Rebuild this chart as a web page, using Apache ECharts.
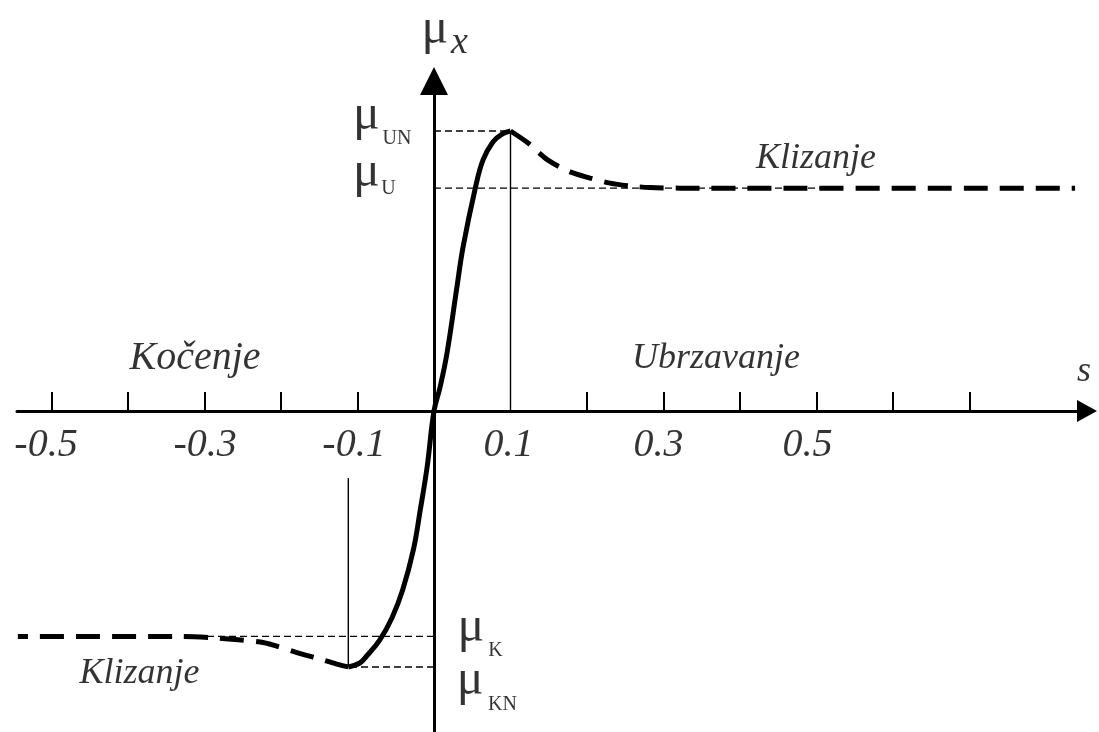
<!DOCTYPE html>
<html><head><meta charset="utf-8">
<script src="https://cdn.jsdelivr.net/npm/echarts@6/dist/echarts.min.js"></script>
<style>html,body{margin:0;padding:0;background:#fff}#c{width:1099px;height:732px}</style>
</head><body><div id="c"></div>
<script>
// ---- data ----
const xTickValues = [-0.5, -0.4, -0.3, -0.2, -0.1, 0.2, 0.3, 0.4, 0.5, 0.6, 0.7];
const xLabelValues = [-0.5, -0.3, -0.1, 0.1, 0.3, 0.5];
const muUN = 1.0, muU = 0.796, muK = -0.805, muKN = -0.914;
const sUN = 0.1, sKN = -0.112;
// solid curve (stable region)
const solidS = [-0.112, -0.097, -0.088, -0.071, -0.055, -0.041, -0.027, -0.018, -0.009, 0, 0.008, 0.017, 0.030, 0.038, 0.054, 0.064, 0.077, 0.089, 0.100];
const solidV = [-0.914, -0.900, -0.875, -0.818, -0.739, -0.639, -0.496, -0.354, -0.200, 0, 0.086, 0.207, 0.443, 0.586, 0.796, 0.896, 0.961, 0.989, 1.000];
// dashed curve, acceleration side
const dashUS = [0.100, 0.123, 0.149, 0.178, 0.204, 0.230, 0.256, 0.282, 0.322, 0.838];
const dashUV = [1.000, 0.957, 0.896, 0.854, 0.832, 0.814, 0.804, 0.798, 0.796, 0.796];
// dashed curve, braking side
const dashKS = [-0.112, -0.127, -0.158, -0.178, -0.210, -0.227, -0.260, -0.293, -0.332, -0.544];
const dashKV = [-0.914, -0.904, -0.879, -0.864, -0.836, -0.825, -0.816, -0.809, -0.805, -0.805];
// text
const regionTexts = ['Kočenje', 'Ubrzavanje', 'Klizanje', 'Klizanje', 's'];
const muTexts = ['μ', 'μ', 'μ', 'μ', 'μ'];
const subTexts = ['x', 'UN', 'U', 'K', 'KN'];

// ---- layout (label anchors in data units) ----
const xLabelShift = [-0.0072, 0.0007, -0.0046, -0.0026, -0.0065, -0.0118];
const xLabelY = -0.1214;
const regionPos = [[-0.3124, 0.186], [0.3686, 0.186], [0.4993, 0.900], [-0.385, -0.939], [0.8497, 0.140]];
const muPos = [[0.0013, 1.3625], [-0.0882, 1.055], [-0.0882, 0.850], [0.0484, -0.773], [0.0471, -0.964]];
const subPos = [[0.0333, 1.3146], [-0.0484, 0.971], [-0.0595, 0.795], [0.0804, -0.855], [0.0895, -1.048]];

const SERIF = '"Liberation Serif","Times New Roman",serif';
const zip = (a, b) => a.map((v, i) => [v, b[i]]);

const thin = (data, dashed) => ({
  type: 'line', data, symbol: 'none', silent: true, z: 2,
  lineStyle: { color: '#000', width: 1.4, type: dashed ? [7, 4] : 'solid' }
});
const textSeries = (texts, pos, style) => ({
  type: 'scatter', symbolSize: 0, clip: false, silent: true, z: 5,
  data: texts.map((t, i) => ({ value: pos[i], name: t })),
  label: Object.assign({ show: true, position: 'inside', formatter: p => p.name, color: '#000', fontFamily: SERIF, align: 'center', verticalAlign: 'middle' }, style)
});

const regionSeries = textSeries(regionTexts, regionPos, { fontSize: 36, fontStyle: 'italic' });
regionSeries.data[0].label = { fontSize: 40, fontStyle: 'italic', fontFamily: SERIF, color: '#000' };
const subSeries = textSeries(subTexts, subPos, { fontSize: 20 });
subSeries.data[0].label = { fontStyle: 'italic', fontSize: 38, fontFamily: SERIF, color: '#000' };

const tickLabelSeries = textSeries(
  xLabelValues.map(v => String(v)),
  xLabelValues.map((v, i) => [v + xLabelShift[i], xLabelY]),
  { fontSize: 40, fontStyle: 'italic' }
);

const option = {
  animation: false,
  backgroundColor: '#fff',
  grid: { left: 17, right: 12, top: 81, bottom: 0, containLabel: false, outerBoundsMode: 'none' },
  xAxis: {
    type: 'value', min: -0.5451, max: 0.8536,
    splitLine: { show: false },
    axisLine: { show: true, onZero: true, symbol: ['none', 'triangle'], symbolSize: [22, 20], lineStyle: { color: '#000', width: 3 } },
    axisTick: { show: true, inside: true, length: 19, customValues: xTickValues, lineStyle: { color: '#000', width: 2 } },
    axisLabel: { show: false }
  },
  yAxis: {
    type: 'value', min: -1.1464, max: 1.1786,
    splitLine: { show: false },
    axisLine: { show: true, onZero: true, symbol: ['none', 'triangle'], symbolSize: [28, 28], lineStyle: { color: '#000', width: 3 } },
    axisTick: { show: false }, axisLabel: { show: false }
  },
  series: [
    thin([[0, muUN], [sUN, muUN]], true),
    thin([[0, muU], [0.53, muU]], true),
    thin([[0, muK], [-0.31, muK]], true),
    thin([[0, muKN], [sKN, muKN]], true),
    thin([[sUN, 0], [sUN, muUN]], false),
    thin([[sKN, -0.239], [sKN, muKN]], false),
    { type: 'line', data: zip(solidS, solidV), symbol: 'none', smooth: 0.4, z: 3,
      lineStyle: { color: '#000', width: 5 } },
    { type: 'line', data: zip(dashUS, dashUV), symbol: 'none', smooth: 0.3, z: 3,
      lineStyle: { color: '#000', width: 5, type: [24, 12] } },
    { type: 'line', data: zip(dashKS, dashKV), symbol: 'none', smooth: 0.3, z: 3,
      lineStyle: { color: '#000', width: 5, type: [24, 12] } },
    regionSeries,
    textSeries(muTexts, muPos, { fontSize: 50 }),
    subSeries,
    tickLabelSeries
  ]
};
const chart = echarts.init(document.getElementById('c'), null, { renderer: 'canvas' });
chart.setOption(option);
</script></body></html>
